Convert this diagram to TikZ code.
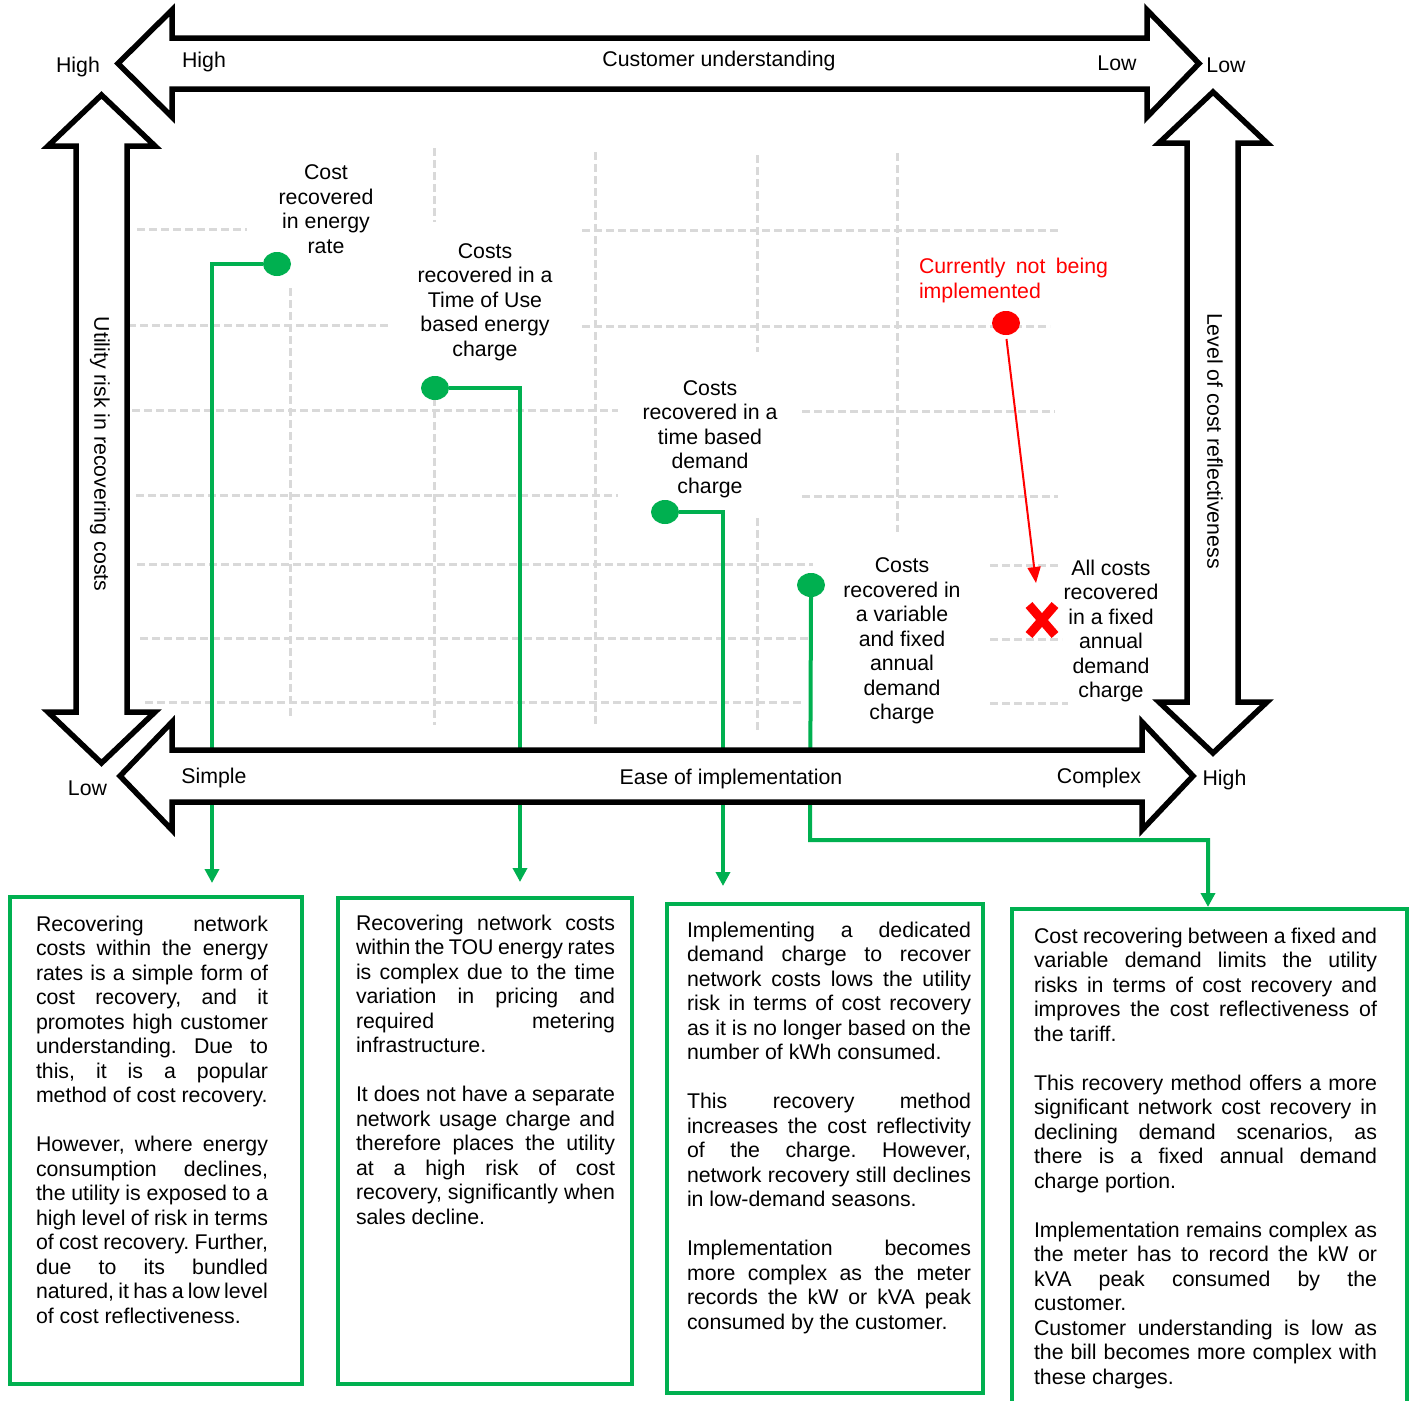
\documentclass[tikz,border=0pt]{standalone}
\usepackage{fontspec}
\setmainfont{Liberation Sans}
\usetikzlibrary{arrows.meta,shapes.geometric}
\definecolor{gr}{HTML}{00B050}
\definecolor{rd}{HTML}{FF0000}
\definecolor{gridc}{HTML}{D9D9D9}
\frenchspacing
\newcommand\J[1]{\leavevmode\hbox to \hsize{\spaceskip=0pt \xspaceskip=0pt \frenchspacing #1}}
\newcommand\NL[1]{\mbox{\spaceskip=0pt \xspaceskip=0pt \frenchspacing #1}}
\begin{document}
\begin{tikzpicture}[x=1pt,y=-1pt,
  every node/.style={inner sep=0pt, outer sep=0pt, font=\fontsize{21.3}{24.5}\selectfont},
  blockarrow/.style={draw=black, line width=5.5pt, fill=white},
  gridline/.style={draw=gridc, line width=3pt, dash pattern=on 8pt off 4pt},
  gline/.style={draw=gr, line width=4pt},
  garrow/.style={gline, -{Triangle[width=14pt,length=14pt]}},
  gdot/.style={ellipse, fill=gr, minimum width=28pt, minimum height=24pt},
  rdot/.style={ellipse, fill=rd, minimum width=28pt, minimum height=24pt},
  gbox/.style={draw=gr, line width=4pt, rectangle, anchor=north west},
  boxtext/.style={anchor=north west, align=left},
  lab/.style={align=center},
  axlab/.style={anchor=base},
]
\clip (0,0) rectangle (1413,1400);
\fill[white] (0,0) rectangle (1413,1400);

% grid
\draw[gridline] (137,229) -- (247,229);
\draw[gridline] (582,230) -- (1060,230);
\draw[gridline] (128,325) -- (390,325);
\draw[gridline] (582,326) -- (1050,326);
\draw[gridline] (132,410) -- (618,410);
\draw[gridline] (802,411) -- (1055,411);
\draw[gridline] (136,495) -- (618,495);
\draw[gridline] (802,496) -- (1058,496);
\draw[gridline] (137,564) -- (813,564);
\draw[gridline] (990,565) -- (1060,565);
\draw[gridline] (140,638) -- (808,638);
\draw[gridline] (990,639) -- (1062,639);
\draw[gridline] (145,702) -- (803,702);
\draw[gridline] (990,703) -- (1068,703);
\draw[gridline] (290,288) -- (290,718);
\draw[gridline] (434,148) -- (434,222);
\draw[gridline] (434,398) -- (434,725);
\draw[gridline] (595,152) -- (595,727);
\draw[gridline] (757,155) -- (757,352);
\draw[gridline] (757,518) -- (757,730);
\draw[gridline] (897,153) -- (897,532);

% boxes
\node[gbox, minimum width=292pt, minimum height=487pt] (b1) at (10,897) {};
\node[gbox, minimum width=294pt, minimum height=486pt] (b2) at (338,898) {};
\node[gbox, minimum width=316pt, minimum height=489pt] (b3) at (667,904) {};
\node[gbox, minimum width=395pt, minimum height=495pt] (b4) at (1012,909) {};

% dots and connectors
\node[gdot] (d1) at (277,264) {};
\node[gdot] (d2) at (435,388) {};
\node[gdot] (d3) at (665,512) {};
\node[gdot] (d4) at (811,585) {};
\coordinate (k1) at (212,264);
\coordinate (k2) at (520,388);
\coordinate (k3) at (723,512);
\coordinate (k4) at (810,840);
\coordinate (k5) at (1208,840);
\draw[garrow, shorten >=14pt] (d1.west) -- (k1) -- (k1 |- b1.north);
\draw[garrow, shorten >=16pt] (d2.east) -- (k2) -- (k2 |- b2.north);
\draw[garrow, shorten >=18pt] (d3.east) -- (k3) -- (k3 |- b3.north);
\draw[garrow, shorten >=2pt] (d4.south) -- (k4) -- (k5) -- (k5 |- b4.north);

% block arrows
\draw[blockarrow] (118,63.5) -- (172,10) -- (172,38) -- (1147,38) -- (1147,10) -- (1199,63.5)
  -- (1147,117) -- (1147,89) -- (172,89) -- (172,117) -- cycle;
\draw[blockarrow] (120,776) -- (172,722) -- (172,750) -- (1142,750) -- (1142,722) -- (1193,776)
  -- (1142,830) -- (1142,802) -- (172,802) -- (172,830) -- cycle;
\draw[blockarrow] (101.5,95) -- (155,146) -- (127,146) -- (127,712) -- (155,712) -- (101.5,763)
  -- (48,712) -- (76,712) -- (76,146) -- (48,146) -- cycle;
\draw[blockarrow] (1213,92) -- (1267,143) -- (1238,143) -- (1238,702) -- (1267,702) -- (1213,753)
  -- (1159,702) -- (1187,702) -- (1187,143) -- (1159,143) -- cycle;

% red
\node[rdot] (r1) at (1006,323) {};
\coordinate (rt) at (1036,583);
\draw[rd, line width=2pt, shorten <=4pt, -{Triangle[width=13pt,length=16pt]}] (r1.south) -- (rt);
\draw[rd, line width=9pt] (1029,605) -- (1055,635);
\draw[rd, line width=9pt] (1055,605) -- (1029,635);
\node[anchor=west, text=rd, align=left] (ntxt) at (919,280.5) {\makebox[189pt][s]{Currently not being}\\implemented};

% axis labels
\node[axlab] (hl) at (78,72) {High};
\node[axlab] (hi) at (204,67) {High};
\node[axlab] (cu) at (719,66) {Customer understanding};
\node[axlab] (li) at (1117,70) {Low};
\node[axlab] (lo) at (1226,72) {Low};
\node[axlab] (lb) at (87.5,795) {Low};
\node[axlab] (si) at (214,783) {Simple};
\node[axlab] (ei) at (731,784) {Ease of implementation};
\node[axlab] (co) at (1099,783) {Complex};
\node[axlab] (hb) at (1224.5,785) {High};
\node[rotate=-90] (ur) at (100,454) {Utility risk in recovering costs};
\node[rotate=-90] (lc) at (1215,441) {Level of cost reflectiveness};

% labels
\node[lab] (l1) at (326,209) {Cost\\recovered\\in energy\\rate};
\node[lab] (l2) at (485,302) {Costs\\recovered in a\\Time of Use\\based energy\\charge};
\node[lab] (l3) at (710,439) {Costs\\recovered in a\\time based\\demand\\charge};
\node[lab] (l4) at (902,641) {Costs\\recovered in\\a variable\\and fixed\\annual\\demand\\charge};
\node[lab] (l5) at (1111,631) {All costs\\recovered\\in a fixed\\annual\\demand\\charge};

% box texts
\node[boxtext, text width=232pt] (t1) at (36,916) {%
\J{Recovering network}\\
\J{costs within the energy}\\
\J{rates is a simple form of}\\
\J{cost recovery, and it}\\
\J{promotes high customer}\\
\J{understanding. Due to}\\
\J{this, it is a popular}\\
\NL{method of cost recovery.}\\[24.5pt]
\J{However, where energy}\\
\J{consumption declines,}\\
\J{the utility is exposed to a}\\
\J{high level of risk in terms}\\
\J{of cost recovery. Further,}\\
\J{due to its bundled}\\
\J{natured, it has a low level}\\
\NL{of cost reflectiveness.}};

\node[boxtext, text width=259pt] (t2) at (356,915) {%
\J{Recovering network costs}\\
\J{within the TOU energy rates}\\
\J{is complex due to the time}\\
\J{variation in pricing and}\\
\J{required metering}\\
\NL{infrastructure.}\\[24.5pt]
\J{It does not have a separate}\\
\J{network usage charge and}\\
\J{therefore places the utility}\\
\J{at a high risk of cost}\\
\J{recovery, significantly when}\\
\NL{sales decline.}};

\node[boxtext, text width=284pt] (t3) at (687,922) {%
\J{Implementing a dedicated}\\
\J{demand charge to recover}\\
\J{network costs lows the utility}\\
\J{risk in terms of cost recovery}\\
\J{as it is no longer based on the}\\
\NL{number of kWh consumed.}\\[24.5pt]
\J{This recovery method}\\
\J{increases the cost reflectivity}\\
\J{of the charge. However,}\\
\J{network recovery still declines}\\
\NL{in low-demand seasons.}\\[24.5pt]
\J{Implementation becomes}\\
\J{more complex as the meter}\\
\J{records the kW or kVA peak}\\
\NL{consumed by the customer.}};

\node[boxtext, text width=343pt] (t4) at (1034,928) {%
\J{Cost recovering between a fixed and}\\
\J{variable demand limits the utility}\\
\J{risks in terms of cost recovery and}\\
\J{improves the cost reflectiveness of}\\
\NL{the tariff.}\\[24.5pt]
\J{This recovery method offers a more}\\
\J{significant network cost recovery in}\\
\J{declining demand scenarios, as}\\
\J{there is a fixed annual demand}\\
\NL{charge portion.}\\[24.5pt]
\J{Implementation remains complex as}\\
\J{the meter has to record the kW or}\\
\J{kVA peak consumed by the}\\
\NL{customer.}\\
\J{Customer understanding is low as}\\
\J{the bill becomes more complex with}\\
\NL{these charges.}};
\end{tikzpicture}
\end{document}
